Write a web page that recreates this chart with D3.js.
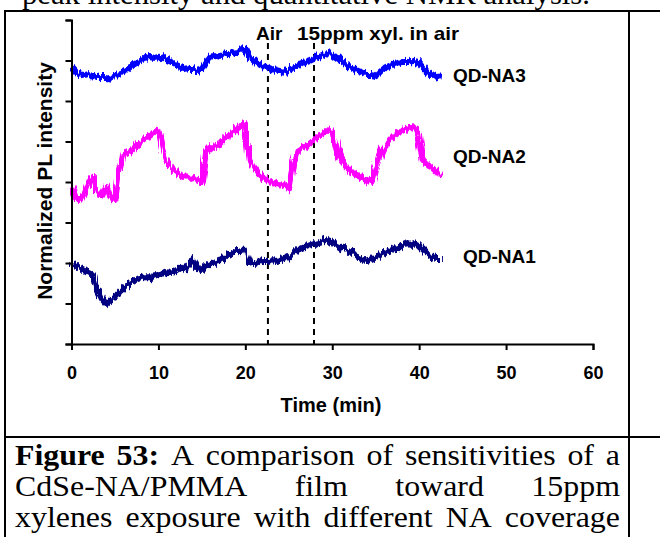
<!DOCTYPE html>
<html>
<head>
<meta charset="utf-8">
<script src="https://cdn.jsdelivr.net/npm/d3@7"></script>
<style>
  html, body { margin: 0; padding: 0; background: #fff; }
  svg { display: block; }
</style>
</head>
<body>
<svg id="fig" width="660" height="537"></svg>
<script>
// Time axis (min), sampled every 0.5 min from 0 to 42.5
const times = d3.range(0, 42.5 + 1e-9, 0.5);

// Normalized PL intensity (arbitrary units, each trace offset vertically)
const qdNA3 = [6.84,6.72,6.64,6.62,6.64,6.62,6.59,6.59,6.59,6.57,6.62,6.64,6.72,6.79,6.89,6.94,7.01,7.06,7.09,7.06,
  7.09,7.06,7.01,6.96,6.91,6.84,6.81,6.79,6.79,6.74,6.79,6.96,7.09,7.11,7.14,7.14,7.16,7.19,7.23,7.28,
  7.26,7.06,6.99,6.91,6.86,6.84,6.79,6.77,6.74,6.72,6.77,6.81,6.86,6.94,6.96,7.01,7.06,7.11,7.16,7.21,
  7.14,7.06,6.99,6.91,6.84,6.79,6.74,6.69,6.64,6.64,6.62,6.72,6.81,6.86,6.91,6.94,6.96,6.96,6.99,6.96,
  6.94,6.81,6.72,6.64,6.59,6.57];
const qdNA2 = [3.90,3.60,3.56,3.73,4.00,4.10,3.75,3.68,3.90,3.63,3.56,4.30,4.67,4.74,4.79,4.91,4.99,5.06,5.14,5.23,
  5.28,4.79,4.49,4.35,4.25,4.17,4.12,4.10,4.07,4.05,4.00,4.74,4.84,4.89,4.96,5.06,5.14,5.21,5.31,5.38,
  5.43,4.54,4.35,4.20,4.10,4.02,4.00,3.95,3.93,3.90,3.85,4.42,4.79,4.86,4.89,4.94,5.04,5.14,5.21,5.28,
  5.23,4.79,4.54,4.40,4.30,4.22,4.15,4.10,4.05,3.98,4.35,4.67,4.84,4.99,5.11,5.21,5.26,5.31,5.36,5.33,
  5.16,4.54,4.42,4.35,4.25,4.10];
const qdNA1 = [2.02,1.93,1.88,1.83,1.75,1.70,1.33,1.11,0.99,1.09,1.16,1.28,1.38,1.46,1.53,1.58,1.63,1.65,1.65,1.70,
  1.70,1.73,1.78,1.75,1.83,1.88,1.85,1.95,2.07,1.88,1.83,1.93,1.98,2.02,2.05,2.12,2.20,2.25,2.27,2.30,
  2.30,2.02,2.00,2.02,2.05,2.05,2.07,2.05,2.07,2.10,2.15,2.25,2.32,2.37,2.42,2.47,2.49,2.52,2.54,2.59,
  2.52,2.44,2.37,2.32,2.27,2.22,2.15,2.10,2.05,2.10,2.15,2.22,2.27,2.32,2.35,2.37,2.44,2.49,2.52,2.47,
  2.40,2.30,2.22,2.15,2.10,2.10];

const seriesNames = ["QD-NA3", "QD-NA2", "QD-NA1"];
const seriesColors = ["#0000ff", "#ff00ff", "#000080"];
const seriesValues = [qdNA3, qdNA2, qdNA1];

// Gas switching events (min)
const eventTimes = [22.6, 27.9];
const xTicks = [0, 10, 20, 30, 40, 50, 60];
const yTicks = [0, 1, 2, 3, 4, 5, 6, 7, 8];

const caption = [
  [["Figure", true], ["53:", true], ["A", false], ["comparison", false], ["of", false], ["sensitivities", false], ["of", false], ["a", false]],
  [["CdSe-NA/PMMA", false], ["film", false], ["toward", false], ["15ppm", false]],
  [["xylenes", false], ["exposure", false], ["with", false], ["different", false], ["NA", false], ["coverage", false]]
];

const svg = d3.select("#fig");
const sans = "'Liberation Sans', Arial, sans-serif";
const serif = "'Liberation Serif', 'Times New Roman', serif";

// Detector noise texture for the PL traces
const defs = svg.append("defs");
const noise = defs.append("filter").attr("id", "plNoise")
  .attr("x", "-2%").attr("y", "-20%").attr("width", "104%").attr("height", "140%");
noise.append("feTurbulence").attr("type", "fractalNoise")
  .attr("baseFrequency", "0.45 0.03").attr("numOctaves", 2).attr("seed", 3).attr("result", "turb");
noise.append("feDisplacementMap").attr("in", "SourceGraphic").attr("in2", "turb")
  .attr("scale", 9).attr("xChannelSelector", "R").attr("yChannelSelector", "G");

// Serif body text is set slightly wide
const serifSize = 29, serifStretch = 1.1;

// Preceding paragraph, mostly above the visible area
svg.append("text")
  .attr("x", 22).attr("y", 4)
  .attr("font-family", serif).attr("font-size", serifSize)
  .attr("textLength", 568).attr("lengthAdjust", "spacingAndGlyphs")
  .text("peak intensity and quantitative NMR analysis.");

// Table borders
const border = svg.append("g").attr("stroke", "#000").attr("stroke-width", 2);
border.append("line").attr("x1", 5).attr("x2", 660).attr("y1", 11).attr("y2", 11);
border.append("line").attr("x1", 5).attr("x2", 5).attr("y1", 10).attr("y2", 537);
border.append("line").attr("x1", 629).attr("x2", 629).attr("y1", 10).attr("y2", 537);
border.append("line").attr("x1", 5).attr("x2", 660).attr("y1", 437).attr("y2", 437);

// Scales
const x = d3.scaleLinear().domain([0, 60]).range([71.5, 593]);
const y = d3.scaleLinear().domain([0, 8]).range([344, 20]);

// Dashed event markers
svg.append("g").selectAll("line").data(eventTimes).join("line")
  .attr("x1", d => x(d)).attr("x2", d => x(d))
  .attr("y1", 43).attr("y2", y(0))
  .attr("stroke", "#000").attr("stroke-width", 2)
  .attr("stroke-dasharray", "6,5");

// Traces
const line = d3.line().x((d, i) => x(times[i])).y(d => y(d));
svg.append("g").attr("filter", "url(#plNoise)")
  .selectAll("path").data(seriesValues).join("path")
  .attr("d", d => line(d))
  .attr("fill", "none")
  .attr("stroke", (d, i) => seriesColors[i])
  .attr("stroke-width", 6)
  .attr("stroke-linejoin", "round");

// Axes
const xAxis = svg.append("g").attr("transform", `translate(0,${y(0)})`)
  .call(d3.axisBottom(x).tickValues(xTicks).tickSize(6).tickPadding(16).tickFormat(d3.format("d")));
const yAxis = svg.append("g").attr("transform", `translate(${x(0)},0)`)
  .call(d3.axisLeft(y).tickValues(yTicks).tickSize(6).tickFormat(""));
[xAxis, yAxis].forEach(g => {
  g.select(".domain").attr("stroke", "#000").attr("stroke-width", 2);
  g.selectAll(".tick line").attr("stroke", "#000").attr("stroke-width", 2);
});
xAxis.selectAll(".tick text")
  .attr("font-family", sans).attr("font-weight", "bold").attr("font-size", 18).attr("fill", "#000");

// Axis titles
svg.append("text")
  .attr("x", 331).attr("y", 412).attr("text-anchor", "middle")
  .attr("font-family", sans).attr("font-weight", "bold").attr("font-size", 20)
  .text("Time (min)");
svg.append("text")
  .attr("transform", "translate(52,181) rotate(-90)").attr("text-anchor", "middle")
  .attr("font-family", sans).attr("font-weight", "bold").attr("font-size", 21)
  .text("Normalized PL intensity");

// Event annotations
svg.append("text").attr("x", 256).attr("y", 40)
  .attr("font-family", sans).attr("font-weight", "bold").attr("font-size", 19)
  .text("Air");
svg.append("text").attr("x", 297).attr("y", 40)
  .attr("font-family", sans).attr("font-weight", "bold").attr("font-size", 19)
  .attr("textLength", 162).attr("lengthAdjust", "spacingAndGlyphs")
  .text("15ppm xyl. in air");

// Series labels
const labelPos = [[453, 82], [453, 163], [463, 263]];
svg.append("g").selectAll("text").data(seriesNames).join("text")
  .attr("x", (d, i) => labelPos[i][0]).attr("y", (d, i) => labelPos[i][1])
  .attr("font-family", sans).attr("font-weight", "bold").attr("font-size", 19)
  .text(d => d);

// Justified caption lines
const capG = svg.append("g");
const capLeft = 15, capRight = 620;
const baselines = [465, 496, 527];
caption.forEach((words, li) => {
  const nodes = words.map(([w, bold]) => capG.append("text")
    .attr("y", baselines[li])
    .attr("font-family", serif).attr("font-size", serifSize)
    .attr("font-weight", bold ? "bold" : "normal")
    .text(w));
  const widths = nodes.map(n => {
    const w = n.node().getComputedTextLength() * serifStretch;
    n.attr("textLength", w).attr("lengthAdjust", "spacingAndGlyphs");
    return w;
  });
  const gap = (capRight - capLeft - d3.sum(widths)) / (nodes.length - 1);
  let cx = capLeft;
  nodes.forEach((n, i) => { n.attr("x", cx); cx += widths[i] + gap; });
});
</script>
</body>
</html>
